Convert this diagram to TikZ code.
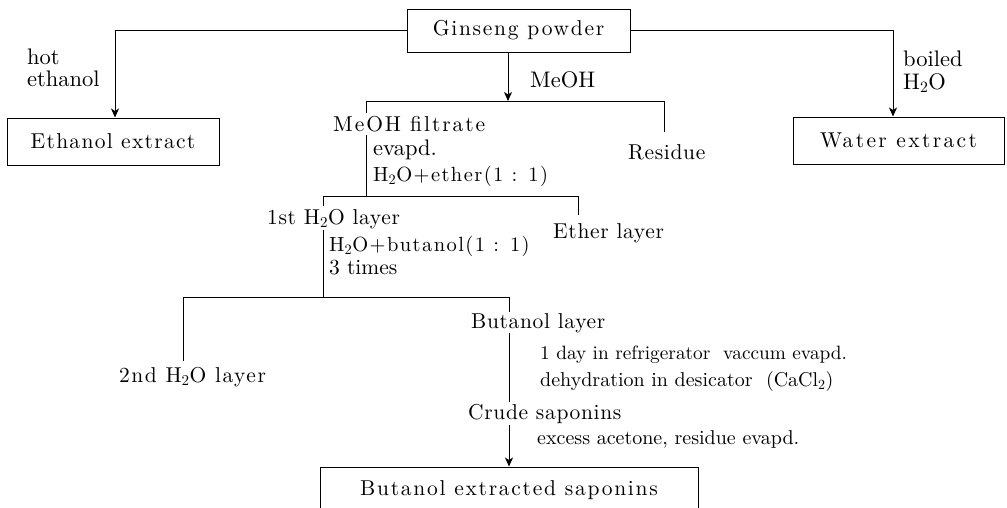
\documentclass[tikz,border=0pt]{standalone}
\usepackage{fontspec}
\setmainfont{lmroman10-regular.otf}
\usetikzlibrary{arrows.meta,calc}
\newcommand{\fbig}{\fontsize{21.5}{26}\selectfont\addfontfeatures{LetterSpace=8}}
\newcommand{\fmid}{\fontsize{21.5}{26}\selectfont\addfontfeatures{LetterSpace=3}}
\newcommand{\fsm}{\fontsize{20}{25}\selectfont}
\newcommand{\flg}{\fontsize{22.5}{26}\selectfont}
\newcommand{\fsp}{\fontsize{20.5}{25}\selectfont\addfontfeatures{LetterSpace=7}}
\newcommand{\sub}[1]{\textsubscript{#1}}
\begin{document}
\begin{tikzpicture}[x=1pt,y=-1pt,
  ln/.style={line width=1pt},
  arr/.style={line width=1pt,-{Stealth[length=9pt,width=8pt,inset=2.5pt]}},
  box/.style={draw,line width=1pt,inner sep=0pt,font=\fbig},
  lbl/.style={anchor=base west,inner sep=0pt,font=\fmid},
  note/.style={anchor=base west,inner sep=0pt,font=\fsm},
  bignote/.style={anchor=base west,inner sep=0pt,font=\flg},
  spnote/.style={anchor=base west,inner sep=0pt,font=\fsp}]
\useasboundingbox (0,0) rectangle (1007,507);
% boxes
\node[box,minimum width=223pt,minimum height=43pt] (gp) at (518.5,30.5) {Ginseng powder};
\node[box,minimum width=212pt,minimum height=47pt,font=\fbig\addfontfeatures{LetterSpace=6}] (ee) at (113,141.5) {Ethanol extract};
\node[box,minimum width=211pt,minimum height=47pt,font=\fbig\addfontfeatures{LetterSpace=11}] (we) at (898.5,140.5) {Water extract};
\node[box,minimum width=378pt,minimum height=46pt] (bes) at (509,490) {Butanol extracted saponins};
% labels
\node[bignote] (hot) at (27,64) {hot};
\node[bignote] (eth) at (27,86) {ethanol};
\node[bignote] (boil) at (903,66) {boiled};
\node[bignote] (h2o) at (903,89) {H\sub{2}O};
\node[bignote] (meoh) at (530,87) {MeOH};
\node[lbl,font=\fmid\addfontfeatures{LetterSpace=9}] (mf) at (333,131) {MeOH filtrate};
\node[lbl] (res) at (628,159) {Residue};
\node[bignote] (ev) at (373,155) {evapd.};
\node[spnote] (he) at (373,181) {H\sub{2}O+ether(1 : 1)};
\node[lbl] (l1) at (267,224) {1st H\sub{2}O layer};
\node[lbl] (eth2) at (553,238) {Ether layer};
\node[spnote] (hb) at (329,251) {H\sub{2}O+butanol(1 : 1)};
\node[note,font=\fontsize{21.5}{25}\selectfont] (t3) at (329,274) {3 times};
\node[lbl,font=\fmid\addfontfeatures{LetterSpace=7}] (l2) at (119,382) {2nd H\sub{2}O layer};
\node[lbl] (bl) at (471,328) {Butanol layer};
\node[note,font=\fontsize{19.3}{24}\selectfont] (d1) at (540,359) {1 day in refrigerator\ \ vaccum evapd.};
\node[note] (d2) at (540,386) {dehydration in desicator\ \ (CaCl\sub{2})};
\node[lbl] (cs) at (468,419) {Crude saponins};
\node[note] (ex) at (537,444) {excess acetone, residue evapd.};
% branch coordinates
\coordinate (b1) at (508,101);
\coordinate (b1l) at (366,101);
\coordinate (b1r) at (664,101);
\coordinate (b2) at (366,196);
\coordinate (b2l) at (323,196);
\coordinate (b2r) at (578,196);
\coordinate (b3) at (323,297);
\coordinate (b3l) at (183,297);
\coordinate (b3r) at (509,297);
% connectors
\draw[arr] (gp.west) -| ([xshift=2pt]ee.north);
\draw[arr] (gp.east) -| ([xshift=-5.5pt]we.north);
\draw[arr] (gp.south -| b1) -- (b1);
\draw[ln] (b1l) -- (b1r);
\draw[ln] (b1l) -- ([yshift=3pt]mf.north -| b1l);
\draw[ln] (b1r) -- ([yshift=12pt]res.north -| b1r);
\draw[ln] ([yshift=-4pt]mf.base -| b1l) -- (b2);
\draw[ln] (b2l) -- (b2r);
\draw[ln] (b2l) -- ([yshift=3pt]l1.north -| b2l);
\draw[ln] (b2r) -- ([yshift=8pt]eth2.north -| b2r);
\draw[ln] ([yshift=-6pt]l1.base -| b2l) -- (b3);
\draw[ln] (b3l) -- (b3r);
\draw[ln] (b3l) -- ([yshift=6pt]l2.north -| b3l);
\draw[ln] (b3r) -- ([yshift=1pt]bl.north -| b3r);
\draw[ln] ([yshift=-5pt]bl.base -| b3r) -- ([yshift=2pt]cs.north -| b3r);
\draw[arr] ([yshift=-6pt]cs.base -| b3r) -- (bes.north -| b3r);
\end{tikzpicture}
\end{document}
